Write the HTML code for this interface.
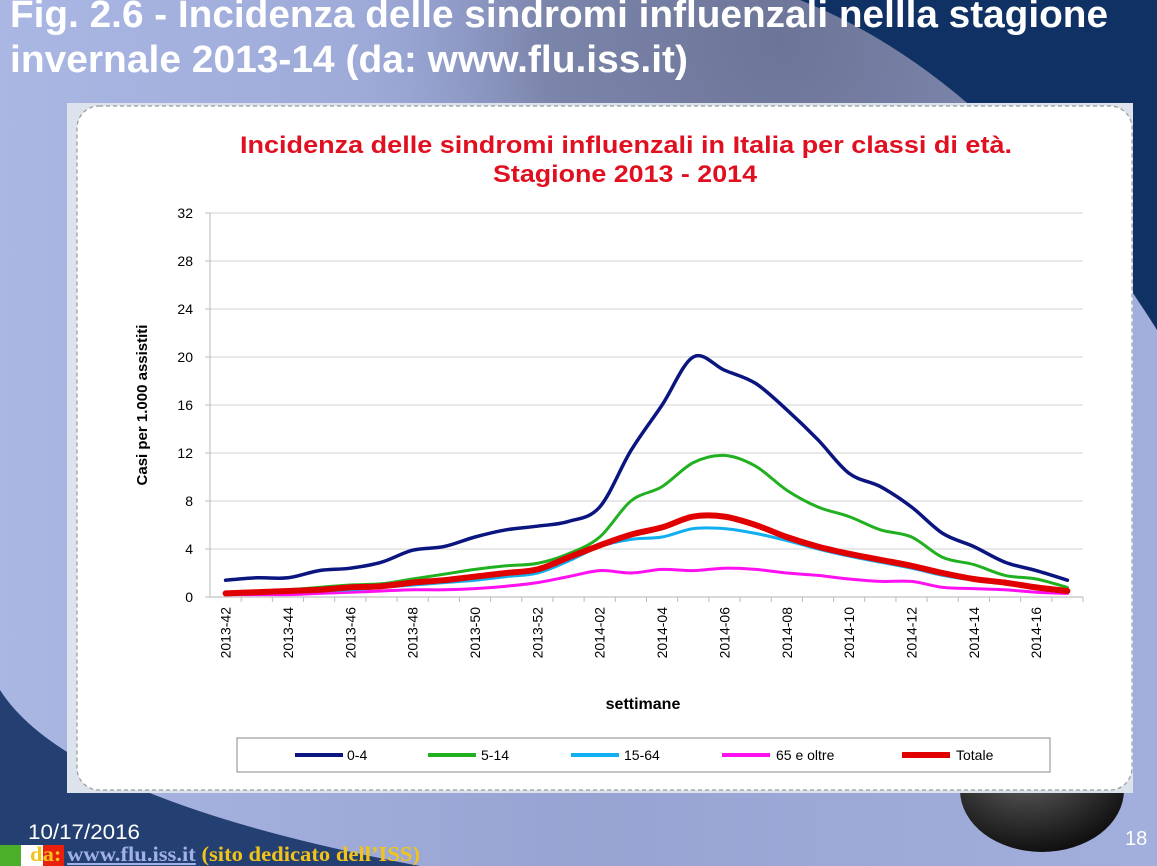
<!DOCTYPE html>
<html><head><meta charset="utf-8"><style>
html,body{margin:0;padding:0;width:1157px;height:866px;overflow:hidden;font-family:"Liberation Sans",sans-serif}
svg{display:block}
</style></head><body>
<svg width="1157" height="866" xmlns="http://www.w3.org/2000/svg" font-family="'Liberation Sans',sans-serif">
<defs>
<linearGradient id="bg" x1="0" y1="0" x2="1" y2="0">
<stop offset="0" stop-color="#aab7e3"/><stop offset="0.5" stop-color="#97a3d2"/><stop offset="1" stop-color="#a2afdc"/></linearGradient>
<radialGradient id="grey" cx="780" cy="40" r="430" gradientUnits="userSpaceOnUse">
<stop offset="0" stop-color="#6c7597"/><stop offset="0.55" stop-color="#747da0" stop-opacity="0.8"/><stop offset="1" stop-color="#8f9aca" stop-opacity="0"/></radialGradient>
<radialGradient id="globe" cx="0.4" cy="0.3" r="0.7"><stop offset="0" stop-color="#666"/><stop offset="1" stop-color="#111"/></radialGradient>
</defs>
<rect width="1157" height="866" fill="url(#bg)"/>
<rect width="1157" height="866" fill="url(#grey)"/>
<path d="M800 0 Q1000 80 1157 330 L1157 0 Z" fill="#0f3163"/>
<path d="M0 690 Q70 800 420 866 L0 866 Z" fill="#243f72"/>
<ellipse cx="1042" cy="790" rx="82" ry="62" fill="url(#globe)"/>

<text x="10" y="27" fill="#fff" font-weight="bold" font-size="38" textLength="1098" lengthAdjust="spacingAndGlyphs">Fig. 2.6 - Incidenza delle sindromi influenzali nellla stagione</text>
<text x="10" y="72" fill="#fff" font-weight="bold" font-size="38" textLength="678" lengthAdjust="spacingAndGlyphs">invernale 2013-14 (da: www.flu.iss.it)</text>

<rect x="67" y="103" width="1066" height="690" fill="#dde3ec"/>
<rect x="77" y="106" width="1055" height="684" rx="22" fill="#fff" stroke="#999" stroke-dasharray="4,3" stroke-width="1.2"/>

<text x="240" y="153" fill="#e01020" font-weight="bold" font-size="24" textLength="772" lengthAdjust="spacingAndGlyphs">Incidenza delle sindromi influenzali in Italia per classi di età.</text>
<text x="493" y="182" fill="#e01020" font-weight="bold" font-size="24" textLength="264" lengthAdjust="spacingAndGlyphs">Stagione 2013 - 2014</text>

<g id="plot"></g>

<text transform="translate(147,405) rotate(-90)" font-size="15" font-weight="bold" text-anchor="middle" fill="#000">Casi per 1.000 assistiti</text>
<text x="643" y="709" font-size="16" font-weight="bold" text-anchor="middle" fill="#000">settimane</text>

<g>
<rect x="237" y="738" width="813" height="34" fill="#fff" stroke="#888" stroke-width="1"/>
<g><line x1="295" y1="755" x2="343" y2="755" stroke="#0a1580" stroke-width="4"/><text x="347" y="760" font-size="14">0-4</text></g>
<g><line x1="428" y1="755" x2="476" y2="755" stroke="#20b020" stroke-width="4"/><text x="481" y="760" font-size="14">5-14</text></g>
<g><line x1="571" y1="755" x2="619" y2="755" stroke="#10b0f0" stroke-width="4"/><text x="624" y="760" font-size="14">15-64</text></g>
<g><line x1="722" y1="755" x2="770" y2="755" stroke="#ff10f0" stroke-width="4"/><text x="776" y="760" font-size="14">65 e oltre</text></g>
<g><line x1="902" y1="755" x2="950" y2="755" stroke="#e00000" stroke-width="6"/><text x="956" y="760" font-size="14">Totale</text></g>
</g>

<text x="28" y="839" fill="#fff" font-size="21" textLength="112" lengthAdjust="spacingAndGlyphs">10/17/2016</text>
<rect x="0" y="845" width="21" height="21" fill="#4caf2a"/>
<rect x="21" y="845" width="22" height="21" fill="#fff"/>
<rect x="43" y="845" width="21" height="21" fill="#e8200c"/>
<text x="30" y="861" font-family="'Liberation Serif',serif" font-weight="bold" font-size="21" fill="#f2c419" textLength="390" lengthAdjust="spacingAndGlyphs">da: <tspan fill="#a0b0e8" text-decoration="underline">www.flu.iss.it</tspan> (sito dedicato dell’ISS)</text>
<text x="1125" y="845" fill="#fff" font-size="20">18</text>
</svg>
<script>
const categories=["2013-42","2013-43","2013-44","2013-45","2013-46","2013-47","2013-48","2013-49","2013-50","2013-51","2013-52","2014-01","2014-02","2014-03","2014-04","2014-05","2014-06","2014-07","2014-08","2014-09","2014-10","2014-11","2014-12","2014-13","2014-14","2014-15","2014-16","2014-17"];
const s0_4=[1.4,1.6,1.6,2.2,2.4,2.9,3.9,4.2,5.0,5.6,5.9,6.3,7.5,12.2,16.0,20.0,18.9,17.8,15.6,13.1,10.3,9.2,7.5,5.3,4.2,2.9,2.2,1.4];
const s5_14=[0.4,0.5,0.6,0.8,1.0,1.1,1.5,1.9,2.3,2.6,2.8,3.6,5.0,8.0,9.2,11.2,11.8,10.9,8.9,7.5,6.7,5.6,5.0,3.3,2.7,1.8,1.5,0.8];
const s15_64=[0.3,0.4,0.4,0.5,0.6,0.8,1.0,1.2,1.4,1.7,2.0,3.0,4.2,4.8,5.0,5.7,5.7,5.3,4.7,4.0,3.4,2.9,2.4,1.8,1.4,1.1,0.8,0.4];
const s65=[0.2,0.2,0.2,0.3,0.4,0.5,0.6,0.6,0.7,0.9,1.2,1.7,2.2,2.0,2.3,2.2,2.4,2.3,2.0,1.8,1.5,1.3,1.3,0.8,0.7,0.6,0.4,0.3];
const sTot=[0.3,0.4,0.5,0.6,0.8,0.9,1.2,1.4,1.7,2.0,2.3,3.3,4.3,5.2,5.8,6.7,6.7,6.0,5.0,4.2,3.6,3.1,2.6,2.0,1.5,1.2,0.8,0.5];
const yTicks=[0,4,8,12,16,20,24,28,32];

const NS="http://www.w3.org/2000/svg";
const g=document.getElementById('plot');
const X0=210,X1=1083,Y0=597,Y1=213,YMAX=32;
const bw=(X1-X0)/categories.length;
const xs=i=>X0+bw*(i+0.5);
const ys=v=>Y0-(v/YMAX)*(Y0-Y1);
function mk(t,a){const e=document.createElementNS(NS,t);for(const k in a)e.setAttribute(k,a[k]);g.appendChild(e);return e;}
yTicks.forEach(t=>{
  const gl=mk('line',{x1:X0,x2:X1,y1:ys(t),y2:ys(t),stroke:'#d9d9d9','stroke-width':1.3});
  
  
  const tl=mk('text',{x:X0-17,y:ys(t)+5,'font-size':14,'text-anchor':'end',fill:'#000'});
  tl.textContent=t;
  
  
  const tk=mk('line',{x1:X0-5,x2:X0,y1:ys(t),y2:ys(t),stroke:'#bbb'});
  
  
});
const ax=mk('line',{x1:X0,x2:X0,y1:Y1,y2:Y0,stroke:'#bbb'});


const bx=mk('line',{x1:X0,x2:X1,y1:Y0,y2:Y0,stroke:'#bbb'});


categories.forEach((c,i)=>{
  const tk=mk('line',{x1:X0+bw*(i+1),x2:X0+bw*(i+1),y1:Y0,y2:Y0+5,stroke:'#bbb'});
  
  
  if(i%2===0){
    const t=mk('text',{transform:`translate(${xs(i)+5},${Y0+10}) rotate(-90)`,'font-size':14,'text-anchor':'end',fill:'#000'});
    t.textContent=c;
    
    
  }
});
function smooth(vals){
  const p=vals.map((v,i)=>[xs(i),ys(v)]);
  let d=`M${p[0][0]},${p[0][1]}`;
  for(let i=0;i<p.length-1;i++){
    const a=p[i-1]||p[i],b=p[i],c=p[i+1],e=p[i+2]||c;
    const c1=[b[0]+(c[0]-a[0])/6,b[1]+(c[1]-a[1])/6],c2=[c[0]-(e[0]-b[0])/6,c[1]-(e[1]-b[1])/6];
    d+=` C${c1[0]},${c1[1]} ${c2[0]},${c2[1]} ${c[0]},${c[1]}`;
  }
  return d;
}
const series=[[s65,'#ff10f0',3,'line-65-oltre'],[s15_64,'#10b0f0',3,'line-15-64'],[s5_14,'#20b020',3,'line-5-14'],[s0_4,'#0a1580',3.5,'line-0-4'],[sTot,'#e00000',6,'line-totale']];
series.forEach(s=>{
  const p=mk('path',{d:smooth(s[0]),fill:'none',stroke:s[1],'stroke-width':s[2],'stroke-linecap':'round','stroke-linejoin':'round'});
  
  
});
</script>
</body></html>
